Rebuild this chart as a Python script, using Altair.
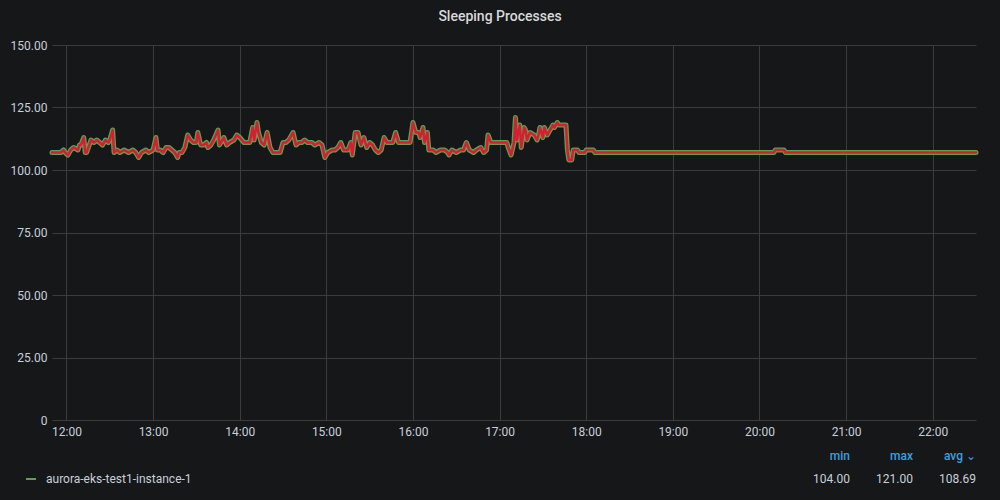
import altair as alt
import pandas as pd

times = [
    "11:50", "11:52", "11:56", "11:58", "11:59", "12:01", "12:03", "12:05", "12:08", "12:09",
    "12:10", "12:12", "12:13", "12:14", "12:17", "12:19", "12:21", "12:23", "12:25", "12:27",
    "12:29", "12:30", "12:32", "12:33", "12:35", "12:37", "12:40", "12:43", "12:46", "12:48",
    "12:50", "12:52", "12:55", "12:57", "13:00", "13:02", "13:03", "13:05", "13:07", "13:09",
    "13:11", "13:13", "13:15", "13:17", "13:18", "13:20", "13:22", "13:24", "13:26", "13:28",
    "13:30", "13:31", "13:33", "13:35", "13:37", "13:38", "13:40", "13:42", "13:45", "13:46",
    "13:49", "13:51", "13:53", "13:56", "13:58", "14:00", "14:03", "14:05", "14:07", "14:09",
    "14:10", "14:12", "14:13", "14:15", "14:17", "14:19", "14:21", "14:23", "14:26", "14:28",
    "14:30", "14:32", "14:34", "14:37", "14:39", "14:41", "14:43", "14:45", "14:47", "14:50",
    "14:52", "14:55", "14:57", "14:59", "15:01", "15:04", "15:06", "15:08", "15:10", "15:12",
    "15:15", "15:17", "15:18", "15:20", "15:22", "15:24", "15:26", "15:28", "15:30", "15:32",
    "15:34", "15:36", "15:38", "15:40", "15:42", "15:44", "15:46", "15:48", "15:50", "15:53",
    "15:56", "15:58", "16:00", "16:02", "16:04", "16:05", "16:07", "16:08", "16:10", "16:11",
    "16:14", "16:16", "16:19", "16:22", "16:24", "16:25", "16:27", "16:30", "16:33", "16:35",
    "16:37", "16:39", "16:42", "16:44", "16:47", "16:49", "16:51", "16:52", "16:54", "16:57",
    "17:00", "17:03", "17:05", "17:06", "17:08", "17:10", "17:11", "17:12", "17:14", "17:15",
    "17:17", "17:18", "17:19", "17:21", "17:24", "17:26", "17:27", "17:28", "17:30", "17:31",
    "17:33", "17:35", "17:37", "17:38", "17:40", "17:41", "17:44", "17:46", "17:47", "17:48",
    "17:50", "17:51", "17:54", "17:55", "17:59", "18:00", "18:05", "18:06", "20:10", "20:11",
    "20:17", "20:18", "22:30",
]
values = [
    107, 107, 107, 108, 107, 106, 108, 109, 108, 110,
    110, 113, 107, 107, 112, 111, 112, 111, 110, 112,
    111, 112, 116, 107, 108, 107, 108, 107, 108, 107,
    105, 107, 108, 107, 108, 113, 108, 108, 107, 109,
    109, 108, 107, 105, 107, 107, 109, 114, 112, 111,
    111, 115, 110, 110, 111, 109, 110, 112, 116, 110,
    113, 110, 111, 112, 114, 113, 111, 111, 111, 117,
    112, 119, 115, 111, 110, 115, 109, 107, 107, 107,
    111, 111, 112, 115, 110, 111, 111, 112, 111, 111,
    110, 111, 110, 105, 107, 108, 108, 109, 111, 108,
    108, 111, 106, 115, 115, 110, 113, 109, 111, 110,
    108, 107, 108, 113, 111, 111, 111, 115, 111, 111,
    111, 111, 119, 115, 115, 113, 117, 111, 115, 108,
    108, 107, 108, 108, 107, 106, 108, 107, 108, 108,
    111, 108, 107, 108, 109, 107, 108, 114, 111, 111,
    111, 111, 111, 109, 106, 111, 121, 112, 118, 109,
    117, 116, 112, 115, 114, 112, 114, 117, 113, 117,
    114, 116, 118, 117, 119, 118, 118, 118, 108, 104,
    104, 108, 108, 107, 107, 108, 108, 107, 107, 108,
    108, 107, 107,
]

series_name = "aurora-eks-test1-instance-1"
stat_headers = ["min", "max", "avg ⌄"]
stat_values = ["104.00", "121.00", "108.69"]

df = pd.DataFrame({
    "time": ["2024-01-01T" + t + ":00" for t in times],
    "value": values,
})

BG = "#161719"
TEXT = "#c7d0d9"
GRID = "#393c41"
GREEN = "#629e51"
RED = "#d41f33"
BLUE = "#33a2e5"

x_enc = alt.X(
    "time:T",
    scale=alt.Scale(domain=["2024-01-01T11:50:00", "2024-01-01T22:30:00"]),
    axis=alt.Axis(
        title=None,
        format="%H:%M",
        tickCount=12,
        domain=False,
        ticks=False,
        labelPadding=6,
        grid=True,
    ),
)
y_enc = alt.Y(
    "value:Q",
    scale=alt.Scale(domain=[0, 150], nice=False),
    axis=alt.Axis(
        title=None,
        values=[0, 25, 50, 75, 100, 125, 150],
        labelExpr="datum.value == 0 ? '0' : format(datum.value, '.2f')",
        domain=False,
        ticks=False,
        labelPadding=5,
        grid=True,
    ),
)

base = alt.Chart(df)
outline = base.mark_line(color=GREEN, strokeWidth=5, strokeCap="round", strokeJoin="round").encode(x=x_enc, y=y_enc)
inner = base.mark_line(color=RED, strokeWidth=2.5, strokeCap="round", strokeJoin="round").encode(x="time:T", y="value:Q")

leg_df = pd.DataFrame({"name": [series_name]})
leg_dash = alt.Chart(leg_df).mark_rule(color=GREEN, strokeWidth=2).encode(
    x=alt.value(-26), x2=alt.value(-16), y=alt.value(434)
)
leg_text = alt.Chart(leg_df).mark_text(
    align="left", baseline="middle", color=TEXT, fontSize=12, font="Roboto"
).encode(text="name:N", x=alt.value(-6), y=alt.value(434))

stat_x = [798, 861, 924]
hdr_layers = []
for hx, h, v in zip(stat_x, stat_headers, stat_values):
    d = pd.DataFrame({"h": [h], "v": [v]})
    hdr_layers.append(
        alt.Chart(d).mark_text(align="right", baseline="middle", color=BLUE, fontSize=12,
                               font="Roboto", fontWeight=500)
        .encode(text="h:N", x=alt.value(hx), y=alt.value(411))
    )
    hdr_layers.append(
        alt.Chart(d).mark_text(align="right", baseline="middle", color=TEXT, fontSize=12, font="Roboto")
        .encode(text="v:N", x=alt.value(hx), y=alt.value(434))
    )

chart = alt.layer(outline, inner, leg_dash, leg_text, *hdr_layers).properties(
    width=924,
    height=375,
    padding={"left": 52, "top": 45, "right": 24, "bottom": 80},
    autosize=alt.AutoSizeParams(type="none"),
    background=BG,
    title=alt.TitleParams(
        "Sleeping Processes", color="#d8d9da", fontSize=14, fontWeight=500, font="Roboto",
        anchor="middle", dx=-14, offset=15,
    ),
).configure_view(stroke=None).configure_axis(
    gridColor=GRID, gridWidth=1, labelColor=TEXT, labelFont="Roboto", labelFontSize=12
)

chart.save("out.html", embed_options={"renderer": "svg", "actions": False})
